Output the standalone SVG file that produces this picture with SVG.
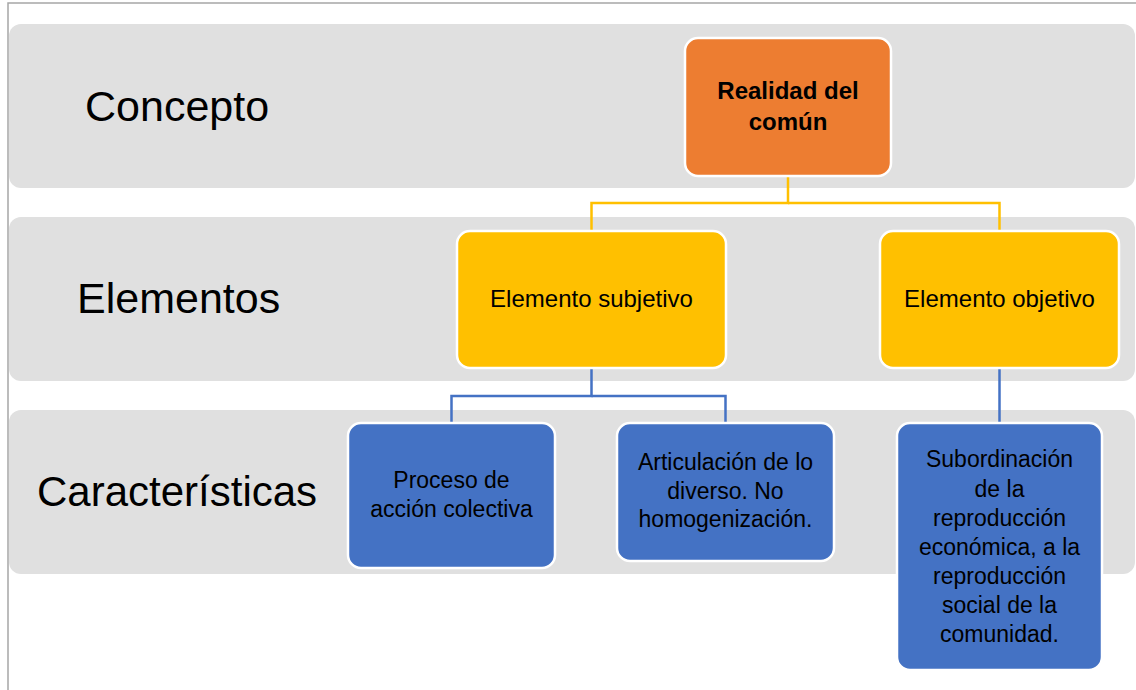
<svg xmlns="http://www.w3.org/2000/svg" width="1136" height="690" viewBox="0 0 1136 690">
  <style>
    .band { fill: #E0E0E0; }
    .lbl { font-family: "Liberation Sans", Arial, sans-serif; font-size: 43px; fill: #000; }
    .lbl42 { font-size: 42px; }
    .node { stroke: #FFFFFF; stroke-width: 2.5; }
    .txt { font-family: "Liberation Sans", Arial, sans-serif; fill: #000; text-anchor: middle; }
    .t24 { font-size: 24px; }
    .t23 { font-size: 23px; }
    .bold { font-weight: bold; font-size: 24px; }
    .cy { fill: none; stroke: #FFC000; stroke-width: 2.5; }
    .cb { fill: none; stroke: #4472C4; stroke-width: 2.5; }
  </style>
  <rect x="0" y="0" width="1136" height="690" fill="#FFFFFF"/>
  <g id="frame">
    <path d="M8 690 V3 H1136" fill="none" stroke="#A6A6A6" stroke-width="1.5"/>
  </g>
  <g id="bands">
    <rect class="band" x="9" y="24" width="1126" height="164" rx="12"/>
    <rect class="band" x="9" y="217" width="1126" height="164" rx="12"/>
    <rect class="band" x="9" y="410" width="1126" height="164" rx="12"/>
    <text class="lbl" x="85" y="121">Concepto</text>
    <text class="lbl" x="77" y="313">Elementos</text>
    <text class="lbl lbl42" x="37" y="506">Características</text>
  </g>
  <g id="connectors">
    <path class="cy" d="M788 176 V203 H591.5 V231"/>
    <path class="cy" d="M788 203 H999.5 V231"/>
    <path class="cb" d="M591.5 368 V396 H451.5 V423"/>
    <path class="cb" d="M591.5 396 H725.5 V423"/>
    <path class="cb" d="M999.5 368 V423"/>
  </g>
  <g id="realidad">
    <rect class="node" x="685" y="38" width="206" height="138" rx="13" fill="#ED7D31"/>
    <text class="txt bold" x="788" y="99">Realidad del</text>
    <text class="txt bold" x="788" y="130">común</text>
  </g>
  <g id="subjetivo">
    <rect class="node" x="457" y="231" width="269" height="137" rx="13" fill="#FFC000"/>
    <text class="txt t24" x="591.5" y="307">Elemento subjetivo</text>
  </g>
  <g id="objetivo">
    <rect class="node" x="880" y="231" width="239" height="137" rx="13" fill="#FFC000"/>
    <text class="txt t24" x="999.5" y="307">Elemento objetivo</text>
  </g>
  <g id="proceso">
    <rect class="node" x="348" y="423" width="207" height="145" rx="13" fill="#4472C4"/>
    <text class="txt t23" x="451.5" y="488">Proceso de</text>
    <text class="txt t23" x="451.5" y="517">acción colectiva</text>
  </g>
  <g id="articulacion">
    <rect class="node" x="617" y="423" width="217" height="138" rx="13" fill="#4472C4"/>
    <text class="txt t23" x="725.5" y="470">Articulación de lo</text>
    <text class="txt t23" x="725.5" y="499">diverso. No</text>
    <text class="txt t23" x="725.5" y="527">homogenización.</text>
  </g>
  <g id="subordinacion">
    <rect class="node" x="897" y="423" width="205" height="247" rx="13" fill="#4472C4"/>
    <text class="txt t23" x="999.5" y="467">Subordinación</text>
    <text class="txt t23" x="999.5" y="497">de la</text>
    <text class="txt t23" x="999.5" y="526">reproducción</text>
    <text class="txt t23" x="999.5" y="555">económica, a la</text>
    <text class="txt t23" x="999.5" y="584">reproducción</text>
    <text class="txt t23" x="999.5" y="613">social de la</text>
    <text class="txt t23" x="999.5" y="642">comunidad.</text>
  </g>
</svg>
